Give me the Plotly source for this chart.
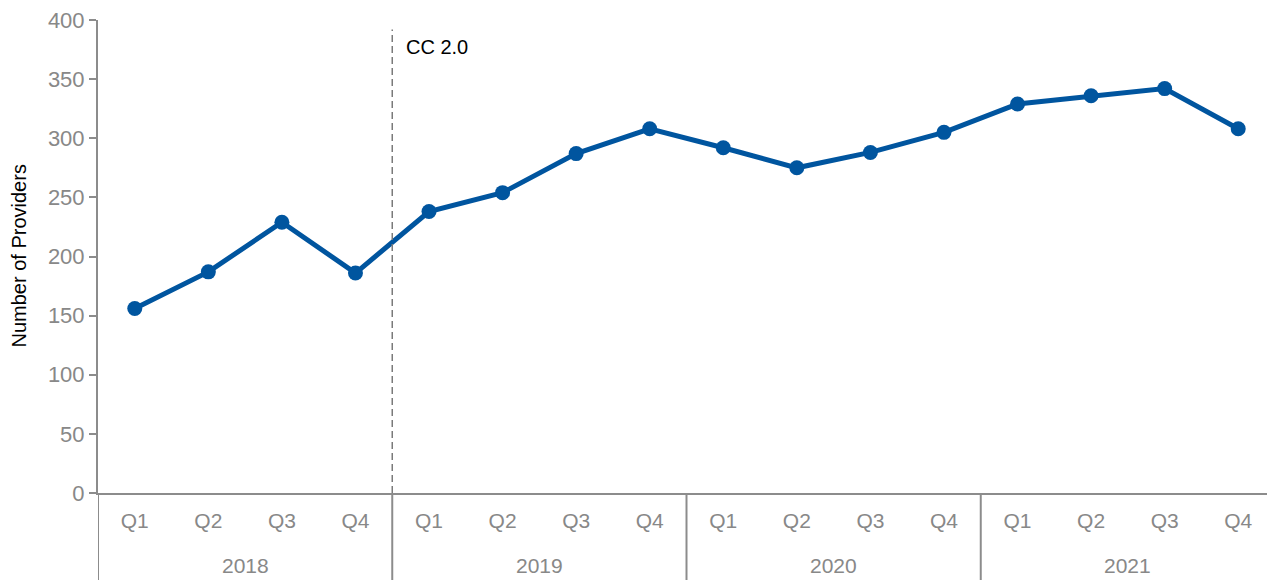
import plotly.graph_objects as go

# data
years = ["2018", "2019", "2020", "2021"]
quarters = ["Q1", "Q2", "Q3", "Q4"]
providers = [156, 187, 229, 186,
             238, 254, 287, 308,
             292, 275, 288, 305,
             329, 336, 342, 308]

n_q = len(quarters)
x_idx = list(range(len(providers)))
tick_text = quarters * len(years)

GRAY = "#888888"
AXIS = "#8c8c8c"
BLUE = "#00559F"
FONT = "Liberation Sans, Arial, sans-serif"

fig = go.Figure()

fig.add_trace(
    go.Scatter(
        x=x_idx,
        y=providers,
        mode="lines+markers",
        line=dict(color=BLUE, width=5),
        marker=dict(color=BLUE, size=15),
        showlegend=False,
    )
)

# year group labels and dividers under the quarter labels
for i, yr in enumerate(years):
    fig.add_annotation(
        xref="x", yref="paper",
        x=i * n_q + (n_q - 1) / 2, y=-0.154,
        text=yr, showarrow=False,
        yanchor="middle",
        font=dict(size=21, color=GRAY),
    )
    fig.add_shape(
        type="line",
        xref="x", yref="paper",
        x0=i * n_q - 0.5, x1=i * n_q - 0.5, y0=0, y1=-0.185,
        line=dict(color=AXIS, width=2),
    )

# CC 2.0 marker between 2018 Q4 and 2019 Q1
fig.add_shape(
    type="line",
    xref="x", yref="y",
    x0=n_q - 0.5, x1=n_q - 0.5, y0=0, y1=392,
    line=dict(color="#7a7a7a", width=1.5, dash="7px,4px"),
)
fig.add_annotation(
    xref="x", yref="y",
    x=n_q - 0.5, y=377,
    text="CC 2.0",
    showarrow=False,
    xanchor="left",
    xshift=12,
    font=dict(size=20, color="black"),
)

# y axis title
fig.add_annotation(
    xref="paper", yref="paper",
    x=0, y=0.5, xshift=-80,
    text="Number of Providers",
    textangle=-90,
    showarrow=False,
    xanchor="center", yanchor="middle",
    font=dict(size=20, color="black"),
)

# page body adds an 8px offset, so the figure is sized to fit the window
fig.update_layout(
    width=1267,
    height=572,
    margin=dict(l=90, r=0, t=12, b=87),
    plot_bgcolor="white",
    paper_bgcolor="white",
    font=dict(family=FONT),
)

fig.update_xaxes(
    range=[-0.5, len(providers) - 0.5],
    tickvals=x_idx,
    ticktext=tick_text,
    showline=True,
    linecolor=AXIS,
    linewidth=2,
    showgrid=False,
    zeroline=False,
    ticks="outside",
    ticklen=8,
    tickcolor="rgba(0,0,0,0)",
    tickfont=dict(size=21, color=GRAY),
    automargin=False,
)
fig.update_yaxes(
    range=[0, 400],
    dtick=50,
    showline=True,
    linecolor=AXIS,
    linewidth=2,
    showgrid=False,
    zeroline=False,
    ticks="outside",
    ticklen=7,
    tickcolor=AXIS,
    tickwidth=2,
    tickfont=dict(size=22, color=GRAY),
    ticklabeloverflow="allow",
    automargin=False,
)

fig.write_html("out.html")
